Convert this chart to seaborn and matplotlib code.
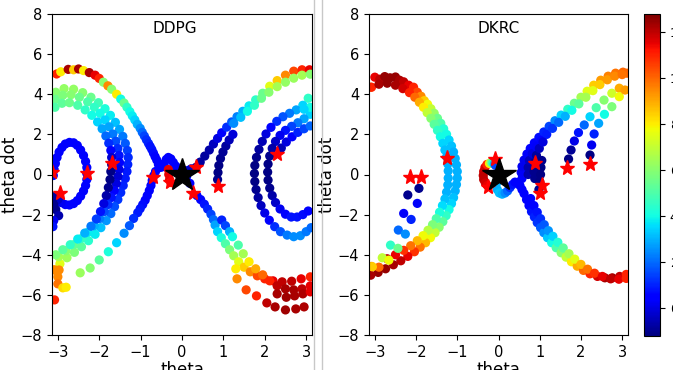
import numpy as np
import pandas as pd
import seaborn as sb
import matplotlib.pyplot as plt
from matplotlib.colors import Normalize
from matplotlib.lines import Line2D

# colour scale of the dots
vmin, vmax = -1.2, 12.8
cbar_ticks = [0, 2, 4, 6, 8, 10, 12]
x_ticks = [-3, -2, -1, 0, 1, 2, 3]
y_ticks = [-8, -6, -4, -2, 0, 2, 4, 6, 8]

## DDPG trajectories: (theta, theta dot, value)
ddpg_upper = [(-3.03, 5.01, 11), (-2.93, 5.12, 8), (-2.75, 5.24, 12.3), (-2.62, 5.22, 8.5), (-2.50, 5.26, 12.3),
              (-2.38, 5.18, 8), (-2.24, 5.08, 12.3), (-2.10, 4.95, 11.5), (-2.00, 4.79, 11), (-1.90, 4.60, 6),
              (-1.79, 4.42, 9.5), (-1.70, 4.25, 6), (-1.58, 4.00, 8), (-1.48, 3.76, 4), (-1.40, 3.56, 5.5),
              (-1.33, 3.35, 4.5), (-1.26, 3.13, 4), (-1.20, 2.92, 3.8), (-1.14, 2.72, 3.5), (-1.08, 2.50, 3),
              (-1.01, 2.30, 2.5), (-0.96, 2.10, 2), (-0.91, 1.92, 1.5), (-0.86, 1.73, 1.2), (-0.81, 1.55, 1),
              (-0.77, 1.40, 0.8), (-0.73, 1.25, 0.8), (-0.69, 1.07, 0.7), (-0.65, 0.89, 0.6), (-0.61, 0.72, 0.5),
              (-0.57, 0.50, 0.5), (-0.53, 0.35, 0.5), (-0.48, 0.38, 0.5), (-0.43, 0.55, 0.5), (-0.38, 0.75, 0.5),
              (-0.33, 0.85, 0.5), (-0.27, 0.78, 0.5), (-0.21, 0.60, 0.5), (-0.15, 0.42, 0.5), (-0.09, 0.25, 0.5),
              (-0.04, 0.10, 0.5)]
ddpg_lower_left = [(-0.64, 0.15, 0.5), (-0.68, -0.05, 0.5), (-0.72, -0.30, 0.5), (-0.75, -0.55, 0.5),
                   (-0.79, -0.80, 0.5), (-0.84, -1.05, 0.6), (-0.89, -1.28, 0.6), (-0.95, -1.50, 0.7),
                   (-1.01, -1.70, 0.8), (-1.07, -1.90, 0.9), (-1.17, -2.19, 1.2), (-1.27, -2.55, 1.8),
                   (-1.40, -2.93, 2.5), (-1.58, -3.40, 3.5), (-1.78, -3.85, 4.2), (-2.00, -4.26, 5.2),
                   (-2.22, -4.66, 6), (-2.46, -4.90, 6.3)]
ddpg_c_outer = [(-3.05, 4.10, 6), (-2.85, 4.28, 6.2), (-2.62, 4.25, 6.2), (-2.40, 4.08, 6), (-2.20, 3.85, 5.5),
                (-2.02, 3.58, 4.8), (-1.86, 3.28, 4.2), (-1.73, 2.95, 3.8), (-1.61, 2.60, 3.2), (-1.51, 2.25, 2.8),
                (-1.43, 1.90, 2.2), (-1.37, 1.55, 1.8), (-1.32, 1.20, 1.4), (-1.30, 0.85, 1.1), (-1.31, 0.50, 1),
                (-1.33, 0.15, 0.9), (-1.37, -0.20, 0.9), (-1.42, -0.55, 1), (-1.48, -0.90, 1.1), (-1.55, -1.25, 1.3),
                (-1.63, -1.60, 1.6), (-1.72, -1.95, 2), (-1.83, -2.30, 2.6), (-1.96, -2.65, 3.2), (-2.10, -2.98, 3.8),
                (-2.26, -3.30, 4.4), (-2.43, -3.60, 5.2), (-2.60, -3.88, 5.8), (-2.78, -4.15, 6.4),
                (-2.95, -4.45, 7.5), (-3.10, -4.75, 9)]
ddpg_c_mid = [(-3.06, 3.75, 5.5), (-2.88, 3.95, 5.8), (-2.68, 3.98, 6), (-2.48, 3.85, 5.5), (-2.28, 3.62, 5),
              (-2.12, 3.35, 4.5), (-1.98, 3.05, 4), (-1.86, 2.72, 3.5), (-1.76, 2.38, 2.8), (-1.67, 2.02, 2.2),
              (-1.60, 1.66, 1.6), (-1.55, 1.30, 1.2), (-1.52, 0.95, 0.8), (-1.51, 0.60, 0.4), (-1.52, 0.25, 0.1),
              (-1.55, -0.10, -0.2), (-1.59, -0.45, 0), (-1.64, -0.80, 0.4), (-1.71, -1.15, 0.8), (-1.79, -1.50, 1.2),
              (-1.88, -1.85, 1.6), (-1.99, -2.20, 2.2), (-2.12, -2.55, 3), (-2.27, -2.88, 3.8), (-2.44, -3.20, 4.6),
              (-2.62, -3.50, 5.4), (-2.80, -3.80, 6), (-2.98, -4.10, 6.5)]
ddpg_c_inner = [(-3.07, 3.35, 5), (-2.90, 3.55, 5.3), (-2.72, 3.58, 5.5), (-2.52, 3.45, 5), (-2.34, 3.22, 4.5),
                (-2.18, 2.95, 4), (-2.04, 2.62, 3.5), (-1.93, 2.28, 2.8), (-1.84, 1.92, 2), (-1.77, 1.56, 1.2),
                (-1.72, 1.20, 0.4), (-1.70, 0.85, -0.2), (-1.70, 0.50, -0.9), (-1.72, 0.15, -1.1), (-1.74, -0.25, -1.1),
                (-1.78, -0.65, -1.0), (-1.83, -1.05, -0.7), (-1.89, -1.45, 0), (-1.97, -1.85, 0.8),
                (-2.07, -2.22, 1.4), (-2.20, -2.58, 2.2), (-2.35, -2.92, 3), (-2.52, -3.22, 3.8), (-2.70, -3.50, 4.5),
                (-2.88, -3.75, 5.2), (-3.05, -4.00, 5.8)]
ddpg_bottom_left = [(-3.07, -4.76, 9.5), (-2.97, -4.76, 9.5), (-3.00, -5.10, 9.5), (-3.00, -5.45, 9.8),
                    (-2.88, -5.65, 8.3), (-2.80, -5.62, 8), (-3.08, -6.25, 11)]
ddpg_loop = [(-2.30, 0.05, 0.5), (-2.30, 0.35, 0.5), (-2.33, 0.65, 0.5), (-2.38, 0.95, 0.5), (-2.45, 1.22, 0.5),
             (-2.53, 1.45, 0.5), (-2.62, 1.58, 0.5), (-2.72, 1.60, 0.5), (-2.82, 1.52, 0.5), (-2.90, 1.35, 0.5),
             (-2.97, 1.12, 0.5), (-3.02, 0.85, 0.5), (-3.06, 0.55, 0.5), (-3.09, 0.25, 0.5), (-3.11, -0.05, 0.5),
             (-2.30, -0.25, 0.5), (-2.33, -0.55, 0.5), (-2.38, -0.82, 0.5), (-2.45, -1.08, 0.5), (-2.53, -1.30, 0.5),
             (-2.62, -1.45, 0.5), (-2.72, -1.52, 0.5), (-2.82, -1.50, 0.5), (-2.92, -1.40, 0.2), (-3.00, -1.25, -0.3),
             (-3.08, -1.10, -0.8), (-3.10, -1.50, -1.0), (-3.05, -1.75, -1.0), (-2.98, -2.05, -0.6),
             (-3.10, -2.30, 0.2), (-3.12, -2.60, 0.8)]
ddpg_red_cluster = [(-0.33, 0.25, 11.5), (-0.32, 0.00, 11.5), (-0.30, -0.25, 11.5), (-0.27, -0.40, 11)]
ddpg_upper_right = [(0.34, 0.36, -0.8), (0.44, 0.62, -0.8), (0.55, 0.92, -0.8), (0.66, 1.22, -0.7), (0.76, 1.52, -0.4),
                    (0.86, 1.80, 0), (0.96, 2.08, 0.6), (1.08, 2.36, 1.2), (1.20, 2.62, 1.8), (1.33, 2.88, 2.3),
                    (1.47, 3.15, 3), (1.62, 3.42, 3.8), (1.78, 3.72, 4.5), (1.95, 4.05, 5.5), (2.12, 4.40, 7.5),
                    (2.30, 4.68, 8.5), (2.50, 4.95, 9.5), (2.70, 5.15, 10.5), (2.90, 5.22, 11), (3.08, 5.22, 11.5),
                    (0.06, 0.10, 0.5), (0.14, 0.20, 0.2), (0.22, 0.28, -0.3)]
ddpg_upper_right_b = [(1.25, 2.55, 2.5), (1.42, 2.85, 3.2), (1.58, 3.15, 4), (1.75, 3.45, 4.5), (1.92, 3.80, 5.5),
                      (2.10, 4.10, 6), (2.30, 4.38, 6.5), (2.50, 4.60, 6.2), (2.70, 4.80, 6.3), (2.90, 4.95, 6.5),
                      (3.10, 5.00, 6)]
ddpg_navy_rise = [(0.86, -0.25, -1.0), (0.87, 0.10, -1.1), (0.89, 0.45, -1.1), (0.93, 0.80, -1.0),
                  (0.99, 1.12, -0.9), (1.06, 1.42, -0.8), (1.14, 1.72, -0.5), (1.23, 2.00, -0.1)]
ddpg_lower_right = [(0.11, -0.11, 0.5), (0.19, -0.44, 0.5), (0.36, -1.05, 0.5), (0.45, -1.25, 0.6),
                    (0.54, -1.48, 0.8), (0.62, -1.72, 1), (0.70, -1.98, 1.5), (0.76, -2.25, 2), (0.80, -2.52, 2.8),
                    (0.86, -2.85, 3.5), (0.95, -3.15, 4.2), (1.05, -3.45, 5), (1.15, -3.75, 5.8), (1.25, -4.05, 6.5),
                    (1.37, -4.35, 7.5), (1.50, -4.62, 8.5), (1.65, -4.85, 9.5), (1.82, -5.05, 10.5), (2.00, -5.20, 11),
                    (2.20, -5.30, 11.5), (2.42, -5.35, 12), (2.65, -5.32, 12), (2.88, -5.20, 11.5), (3.10, -5.10, 11)]
ddpg_lower_right_b = [(0.96, -2.27, 1), (1.05, -2.55, 1.5), (1.15, -2.85, 3), (1.22, -3.10, 4), (1.36, -3.52, 5),
                      (1.48, -3.95, 6.5), (1.62, -4.35, 8), (1.78, -4.70, 9), (1.95, -5.00, 10), (2.12, -5.30, 11),
                      (2.30, -5.55, 12), (2.50, -5.70, 12.3), (2.70, -5.75, 12.3), (2.90, -5.70, 12), (3.10, -5.55, 11.5)]
ddpg_lower_right_c = [(1.30, -4.70, 8), (1.33, -5.20, 9.5), (1.55, -5.75, 10.5), (1.80, -6.05, 11),
                      (2.05, -6.40, 12), (2.25, -6.60, 12.3), (2.50, -6.75, 12.4), (2.75, -6.70, 12.3),
                      (2.95, -6.60, 12.2), (2.30, -5.95, 12.3), (2.52, -6.12, 12.4), (2.72, -6.05, 12.3),
                      (2.92, -5.95, 12.2), (3.10, -5.85, 11.5)]
ddpg_rc_outer = [(3.05, 3.80, 4.5), (2.92, 3.45, 3.5), (2.76, 3.22, 2.8), (2.60, 3.05, 2.2), (2.44, 2.88, 1.7),
                 (2.29, 2.65, 1.2), (2.15, 2.35, 0.6), (2.03, 2.02, 0), (1.94, 1.65, -0.5), (1.86, 1.25, -0.8),
                 (1.80, 0.85, -1.0), (1.76, 0.45, -1.1), (1.75, 0.05, -1.1), (1.76, -0.35, -1.1), (1.79, -0.75, -1.0),
                 (1.84, -1.15, -0.8), (1.91, -1.55, -0.4), (2.00, -1.92, 0.1), (2.11, -2.28, 0.6), (2.24, -2.60, 1.2),
                 (2.38, -2.85, 1.7), (2.54, -3.02, 2.2), (2.70, -3.10, 2.5), (2.86, -3.05, 2.5), (3.00, -2.85, 2.2),
                 (3.12, -2.65, 2)]
ddpg_rc_mid = [(3.10, 3.00, 3.5), (2.95, 2.78, 2.8), (2.80, 2.58, 2.2), (2.65, 2.40, 1.5), (2.50, 2.20, 0.8),
               (2.37, 1.95, 0.2), (2.26, 1.65, -0.3), (2.18, 1.30, -0.7), (2.12, 0.92, -1.0), (2.08, 0.52, -1.1),
               (2.07, 0.12, -1.1), (2.08, -0.28, -1.1), (2.12, -0.68, -1.0), (2.18, -1.05, -0.7), (2.26, -1.40, -0.3),
               (2.37, -1.72, 0.2), (2.50, -1.98, 0.5), (2.64, -2.12, 0.8), (2.78, -2.12, 0.8), (2.92, -2.00, 0.7),
               (3.05, -1.82, 0.6)]
ddpg_rc_inner = [(2.40, 1.32, -0.5), (2.52, 1.62, 0), (2.66, 1.88, 0.5), (2.80, 2.10, 1), (2.95, 2.28, 1.5),
                 (3.10, 2.42, 2), (3.10, 3.35, 4), (2.95, 3.25, 3.5)]

ddpg_stars_theta = [-3.13, -2.95, -2.30, -1.70, -0.71, -0.28, 0.27, 0.34, 0.88, 2.29]
ddpg_stars_dot = [0.12, -0.90, 0.08, 0.56, -0.14, -0.35, -0.91, 0.36, -0.57, 1.00]

## DKRC trajectories
dkrc_left_outer = [(-3.10, 4.35, 10), (-3.00, 4.85, 11.5), (-2.88, 4.75, 12), (-2.76, 4.88, 12.5), (-2.63, 4.82, 12.5),
                   (-2.50, 4.86, 12.5), (-2.40, 4.70, 12.3), (-2.30, 4.62, 12), (-2.18, 4.45, 11.5), (-2.06, 4.35, 11),
                   (-1.97, 4.10, 10.5), (-1.88, 3.90, 9.5), (-1.80, 3.68, 8.5), (-1.72, 3.50, 7.8), (-1.64, 3.28, 7),
                   (-1.56, 3.05, 6.2), (-1.48, 2.80, 5.5), (-1.40, 2.55, 5), (-1.33, 2.28, 4.3), (-1.26, 2.00, 4),
                   (-1.20, 1.72, 3.5), (-1.14, 1.42, 3.2), (-1.09, 1.12, 3), (-1.05, 0.80, 3), (-1.02, 0.48, 3),
                   (-1.00, 0.15, 3), (-1.00, -0.18, 3), (-1.02, -0.50, 3), (-1.05, -0.82, 3), (-1.09, -1.15, 3.2),
                   (-1.14, -1.45, 3.5), (-1.20, -1.75, 4), (-1.27, -2.05, 4.5), (-1.35, -2.35, 5.2), (-1.44, -2.63, 6),
                   (-1.54, -2.90, 7), (-1.65, -3.15, 7.8), (-1.77, -3.40, 8.8), (-1.90, -3.62, 9.8), (-2.04, -3.85, 10.8),
                   (-2.20, -4.08, 11.5), (-2.37, -4.30, 12), (-2.55, -4.50, 12.3), (-2.74, -4.70, 12.5),
                   (-2.92, -4.88, 12.5), (-3.10, -5.02, 12.3)]
dkrc_left_inner = [(-3.08, 4.35, 11), (-2.90, 4.50, 12.3), (-2.70, 4.55, 12.5), (-2.50, 4.45, 12.3), (-2.32, 4.28, 11.8),
                   (-2.16, 4.08, 11), (-2.03, 3.85, 10), (-1.92, 3.60, 9), (-1.82, 3.35, 8), (-1.73, 3.08, 7),
                   (-1.64, 2.80, 6), (-1.56, 2.50, 5.2), (-1.48, 2.20, 4.5), (-1.41, 1.88, 4), (-1.35, 1.55, 3.5),
                   (-1.30, 1.22, 3.2), (-1.26, 0.88, 3), (-1.23, 0.52, 3), (-1.22, 0.18, 3), (-1.22, -0.18, 3),
                   (-1.23, -0.52, 3), (-1.26, -0.88, 3), (-1.30, -1.22, 3.2), (-1.36, -1.55, 3.6), (-1.43, -1.88, 4.2),
                   (-1.51, -2.20, 5), (-1.60, -2.50, 5.8), (-1.71, -2.78, 6.8), (-1.83, -3.05, 7.8), (-1.97, -3.30, 8.8),
                   (-2.13, -3.55, 9.8), (-2.30, -3.78, 10.8), (-2.50, -4.00, 11.5), (-2.70, -4.20, 12),
                   (-2.90, -4.62, 10), (-3.08, -4.58, 9)]
dkrc_dots_left_a = [(-2.20, -1.02, -1.0), (-2.30, -1.94, 0.3), (-2.43, -2.77, 2), (-2.62, -3.52, 4.5),
                    (-2.82, -4.15, 7), (-3.06, -4.60, 8.5)]
dkrc_dots_left_b = [(-1.93, -0.69, -1.0), (-1.97, -1.44, 0.3), (-2.12, -2.24, 1), (-2.26, -2.97, 2.5),
                    (-2.44, -3.68, 5.5), (-2.66, -4.27, 7.8)]
dkrc_center = [(-0.33, 0.35, 11.5), (-0.36, 0.15, 11.8), (-0.37, -0.05, 12), (-0.36, -0.25, 12), (-0.32, -0.42, 11.8),
               (-0.27, -0.55, 11.5), (-0.28, 0.50, 11), (-0.22, 0.55, 8), (-0.18, 0.60, 6), (-0.14, 0.58, 4.5),
               (-0.10, 0.52, 3), (-0.07, 0.45, 1.5), (-0.05, -0.45, 3), (-0.03, -0.75, 3), (0.02, -0.92, 3.2),
               (0.09, -0.98, 3), (0.16, -0.92, 2.5), (0.22, -0.82, 2), (0.28, -0.65, 1.2), (0.34, -0.50, 0.8),
               (0.40, -0.38, 0.5), (0.46, -0.40, 0.5), (0.52, -0.55, 0.5), (0.57, -0.75, 0.5)]
dkrc_right_low_a = [(0.62, -0.95, 0.5), (0.68, -1.25, 0.5), (0.74, -1.55, 0.6), (0.80, -1.85, 0.8), (0.87, -2.12, 1),
                    (0.94, -2.40, 1.3), (1.02, -2.65, 1.8), (1.10, -2.90, 2.5), (1.19, -3.15, 3.3), (1.29, -3.40, 4),
                    (1.40, -3.65, 5), (1.52, -3.90, 6), (1.64, -4.12, 7), (1.77, -4.35, 8), (1.91, -4.57, 9),
                    (2.06, -4.78, 10), (2.22, -4.95, 11), (2.40, -5.08, 11.8), (2.58, -5.15, 12.3), (2.76, -5.15, 12.3),
                    (2.94, -5.08, 12), (3.10, -4.98, 11)]
dkrc_right_low_b = [(0.78, -1.20, 0.5), (0.86, -1.55, 0.6), (0.94, -1.88, 0.8), (1.02, -2.20, 1.2), (1.11, -2.50, 1.8),
                    (1.21, -2.80, 2.6), (1.32, -3.08, 3.4), (1.44, -3.38, 4.3), (1.57, -3.66, 5.3), (1.71, -3.95, 6.5),
                    (1.85, -4.22, 7.5), (2.00, -4.48, 8.8), (2.16, -4.72, 9.8), (2.33, -4.92, 10.8), (2.52, -5.08, 11.5),
                    (2.72, -5.20, 12), (2.92, -5.22, 11.5), (3.10, -5.18, 11)]
dkrc_right_up_a = [(0.57, -0.20, 0.5), (0.55, 0.10, 0.3), (0.57, 0.40, 0.2), (0.62, 0.72, 0.2), (0.69, 1.02, 0.3),
                   (0.77, 1.30, 0.4), (0.87, 1.58, 0.5), (0.98, 1.85, 0.7), (1.10, 2.12, 1), (1.23, 2.40, 1.5),
                   (1.37, 2.68, 2.5), (1.52, 2.96, 3.5), (1.68, 3.25, 4.5), (1.84, 3.55, 5.5), (2.00, 3.85, 6.5),
                   (2.15, 4.15, 7.5), (2.31, 4.45, 8.5), (2.48, 4.70, 9.2), (2.66, 4.90, 9.6), (2.84, 5.05, 9.8),
                   (3.02, 5.10, 10), (3.12, 5.05, 10)]
dkrc_right_up_b = [(0.72, 0.00, -0.6), (0.72, 0.35, -0.6), (0.75, 0.70, -0.4), (0.82, 1.05, 0), (0.92, 1.38, 0.3),
                   (1.04, 1.70, 0.6), (1.17, 2.00, 0.9), (1.31, 2.30, 1.3), (1.46, 2.60, 2), (1.62, 2.90, 3),
                   (1.78, 3.20, 4), (1.95, 3.52, 5.2), (2.12, 3.85, 6.5), (2.29, 4.18, 7.5), (2.46, 4.48, 8.5),
                   (2.64, 4.72, 9.2), (2.82, 4.90, 9.5), (3.00, 4.98, 9.8)]
dkrc_right_up_c = [(0.88, -0.20, -1.0), (0.86, 0.15, -1.0), (0.88, 0.59, -1.0), (0.92, 0.95, -0.8), (0.99, 1.30, -0.4),
                   (1.08, 1.62, 0), (0.98, -0.75, -1.0), (1.00, -0.35, -1.1), (1.02, 0.00, -1.1), (1.03, 0.35, -1.1),
                   (1.05, 0.70, -1.0)]
dkrc_dots_right_a = [(1.70, 0.77, -1.1), (1.76, 1.22, -0.9), (1.84, 1.67, 0.1), (1.94, 2.09, 0.8), (2.08, 2.47, 2),
                     (2.22, 2.88, 3.5), (2.37, 3.33, 5), (2.56, 3.71, 6), (2.75, 4.05, 7.2), (2.93, 4.30, 9)]
dkrc_dots_right_b = [(2.22, 0.97, -1.1), (2.26, 1.47, 0.2), (2.32, 2.02, 1), (2.43, 2.55, 2.8), (2.57, 3.00, 4),
                     (2.75, 3.38, 5.8), (2.93, 3.88, 7.8), (3.07, 4.21, 9.2)]

dkrc_stars_theta = [-2.15, -1.89, -1.25, -0.08, -0.26, 0.89, 1.05, 1.01, 1.66, 2.21]
dkrc_stars_dot = [-0.14, -0.11, 0.84, 0.75, -0.61, 0.59, -0.52, -0.94, 0.31, 0.52]


def to_frame(arcs):
    rows = [p for arc in arcs for p in arc]
    return pd.DataFrame(rows, columns=["theta", "theta_dot", "value"])


ddpg_df = to_frame([ddpg_upper, ddpg_lower_left, ddpg_c_outer, ddpg_c_mid, ddpg_c_inner, ddpg_bottom_left,
                    ddpg_loop, ddpg_red_cluster, ddpg_upper_right, ddpg_upper_right_b, ddpg_navy_rise,
                    ddpg_lower_right, ddpg_lower_right_b, ddpg_lower_right_c, ddpg_rc_outer, ddpg_rc_mid,
                    ddpg_rc_inner])
dkrc_df = to_frame([dkrc_left_outer, dkrc_left_inner, dkrc_dots_left_a, dkrc_dots_left_b, dkrc_center,
                    dkrc_right_low_a, dkrc_right_low_b, dkrc_right_up_a, dkrc_right_up_b, dkrc_right_up_c,
                    dkrc_dots_right_a, dkrc_dots_right_b])

jet = plt.get_cmap("jet")

W, H = 673, 370
fig = plt.figure(figsize=(W / 100, H / 100), dpi=100)
ax1 = fig.add_axes([52 / W, 35 / H, 260 / W, 321 / H])
ax2 = fig.add_axes([369 / W, 35 / H, 259 / W, 321 / H])
cax = fig.add_axes([644 / W, 34 / H, 16 / W, 322 / H])

panels = [(ax1, ddpg_df, ddpg_stars_theta, ddpg_stars_dot, "DDPG", 0.472),
          (ax2, dkrc_df, dkrc_stars_theta, dkrc_stars_dot, "DKRC", 0.5)]
for ax, df, st, sd, name, tx in panels:
    sb.scatterplot(data=df, x="theta", y="theta_dot", hue="value", palette=jet, hue_norm=(vmin, vmax),
                   s=44, linewidth=0, legend=False, ax=ax)
    ax.plot(st, sd, linestyle="none", marker="*", color="red", markersize=11)
    ax.plot([0], [0], linestyle="none", marker="*", color="black", markersize=25)
    ax.set_xlim(-np.pi, np.pi)
    ax.set_ylim(-8, 8)
    ax.set_xticks(x_ticks)
    ax.set_yticks(y_ticks)
    ax.tick_params(labelsize=10.5)
    ax.set_xlabel("theta", fontsize=12, labelpad=1)
    ax.set_ylabel("theta dot", fontsize=12, labelpad=1)
    ax.text(tx, 0.955, name, transform=ax.transAxes, ha="center", va="center", fontsize=11)

sm = plt.cm.ScalarMappable(cmap=jet, norm=Normalize(vmin, vmax))
cb = fig.colorbar(sm, cax=cax, ticks=cbar_ticks)
cb.ax.tick_params(labelsize=9)
cb.outline.set_linewidth(0.8)

# separator lines between the two panels
for xp in [313.5, 322]:
    fig.add_artist(Line2D([xp / W, xp / W], [0, 1], color="#c8c8c8", linewidth=1))

plt.savefig("out.png", dpi=100)
